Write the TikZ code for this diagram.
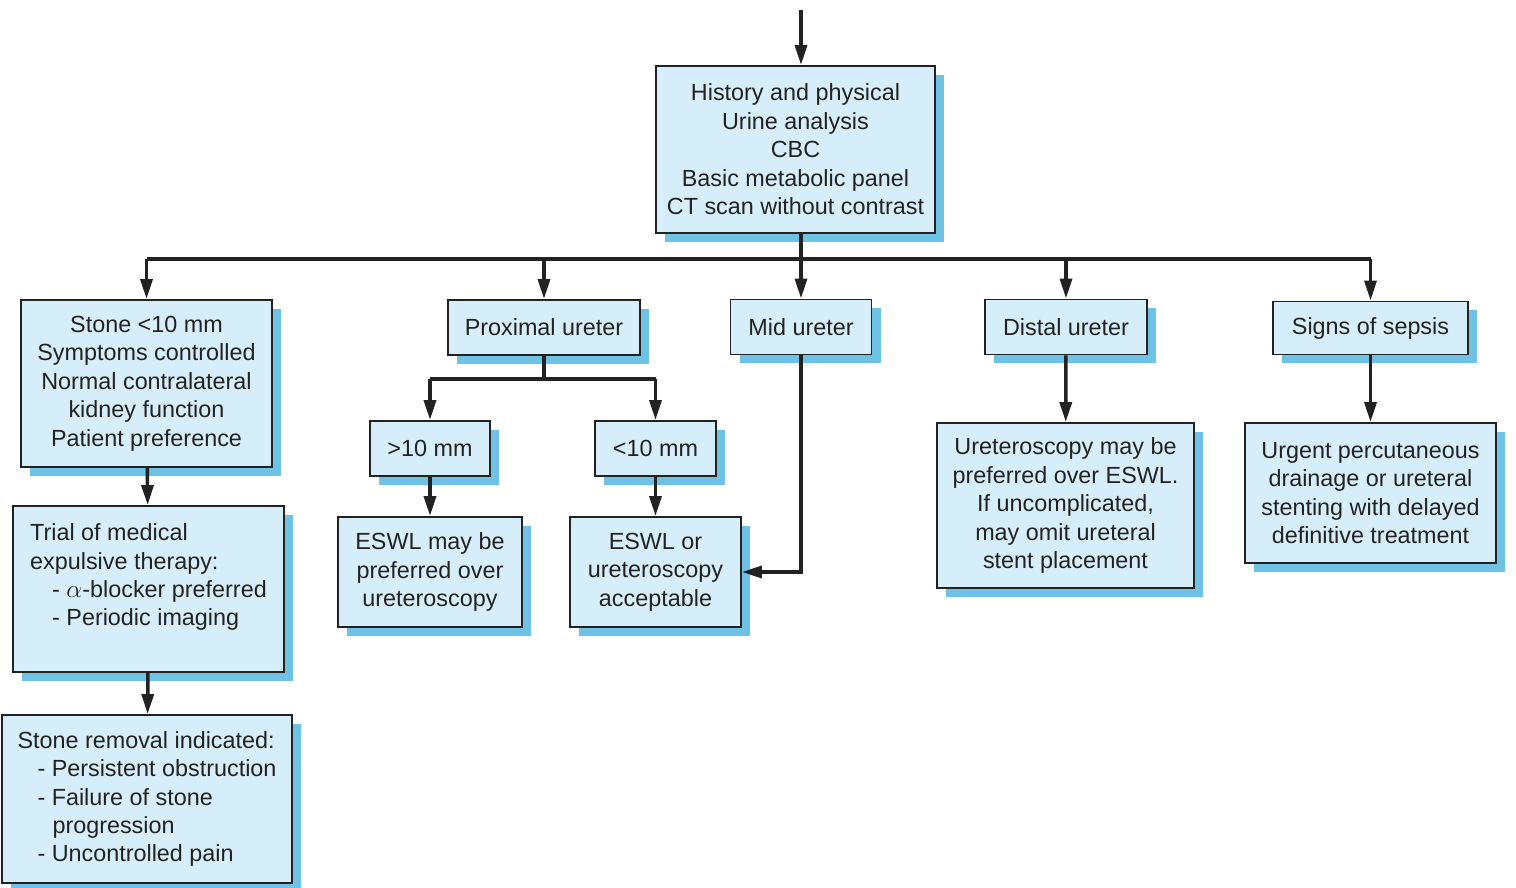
\documentclass[tikz,border=0pt]{standalone}
\usepackage{fontspec}
\setmainfont{Liberation Sans}
\usepackage{tikz}
\usetikzlibrary{arrows.meta,shadows}

\definecolor{boxblue}{HTML}{D6EEF9}
\definecolor{shadeblue}{HTML}{6DC2E6}
\definecolor{inkgray}{HTML}{222222}

\tikzset{
    box/.style={draw=inkgray, line width=1.1pt, fill=boxblue, text=inkgray, align=center, inner sep=0pt,
        font=\fontsize{13.3}{16.2}\selectfont,
        drop shadow={shadow xshift=0.18cm, shadow yshift=-0.18cm, fill=shadeblue, opacity=1}},
    size/.style 2 args={minimum width=#1*0.02cm, minimum height=#2*0.02cm},
    listbox/.style={box, align=left},
    link/.style={draw=inkgray, line width=2pt},
    arr/.style={link, -{Triangle[length=0.4cm,width=0.24cm]}},
}

\begin{document}
\begin{tikzpicture}[x=0.02cm, y=-0.02cm]
    \useasboundingbox (0,0) rectangle (1516,888);

    % workup
    \node[box, size={279}{167}] (workup) at (795.5,149.5) {History and physical\\Urine analysis\\CBC\\Basic metabolic panel\\CT scan without contrast};

    % first row
    \node[box, size={251}{167}] (small) at (146.5,383.5) {Stone <10 mm\\Symptoms controlled\\Normal contralateral\\kidney function\\Patient preference};
    \node[box, size={192}{55}] (proximal) at (544,327.5) {Proximal ureter};
    \node[box, size={141}{55}] (mid) at (801,327) {Mid ureter};
    \node[box, size={162}{55}] (distal) at (1066,327) {Distal ureter};
    \node[box, size={195}{53}] (sepsis) at (1370.5,328) {Signs of sepsis};

    % left column
    \node[listbox, size={271}{166}] (trial) at (148.5,589) {Trial of medical\\expulsive therapy:\\\hspace*{0.44cm}- $\alpha$-blocker preferred\\\hspace*{0.44cm}- Periodic imaging\\\mbox{}};
    \node[listbox, size={290}{168}] (removal) at (147,799) {Stone removal indicated:\\\hspace*{0.4cm}- Persistent obstruction\\\hspace*{0.4cm}- Failure of stone\\\hspace*{0.7cm}progression\\\hspace*{0.4cm}- Uncontrolled pain};

    % proximal split
    \node[box, size={120}{55}] (large) at (430,448.5) {>10 mm};
    \node[box, size={121}{55}] (under) at (655.5,448.5) {<10 mm};
    \node[box, size={184}{110}] (eswl) at (430,572) {ESWL may be\\preferred over\\ureteroscopy};
    \node[box, size={171}{110}] (either) at (655.5,572) {ESWL or\\ureteroscopy\\acceptable};

    % right side
    \node[box, size={257}{165}] (scope) at (1065.5,505.5) {Ureteroscopy may be\\preferred over ESWL.\\If uncomplicated,\\may omit ureteral\\stent placement};
    \node[box, size={251}{140}] (drainage) at (1370.5,493) {Urgent percutaneous\\drainage or ureteral\\stenting with delayed\\definitive treatment};

    % incoming arrow and bus
    \coordinate (entry) at (801,10);
    \coordinate (bus) at (801,259);
    \coordinate (split) at (544,379);
    \draw[arr] (entry) -- (entry |- workup.north);
    \draw[link] (bus |- workup.south) -- (bus);
    \draw[link] (small.north |- bus) -- (sepsis.north |- bus);
    \foreach \n in {small,proximal,mid,distal,sepsis}
        \draw[arr] (\n.north |- bus) -- (\n.north);

    % proximal ureter
    \draw[link] (proximal.south) -- (split);
    \draw[link] (large.north |- split) -- (under.north |- split);
    \draw[arr] (large.north |- split) -- (large.north);
    \draw[arr] (under.north |- split) -- (under.north);
    \draw[arr] (large) -- (eswl);
    \draw[arr] (under) -- (either);

    % mid ureter
    \draw[arr] (mid.south) |- (either.east);

    % the rest
    \draw[arr] (small) -- (trial);
    \draw[arr] (trial) -- (removal);
    \draw[arr] (distal) -- (scope);
    \draw[arr] (sepsis) -- (drainage);
\end{tikzpicture}
\end{document}
